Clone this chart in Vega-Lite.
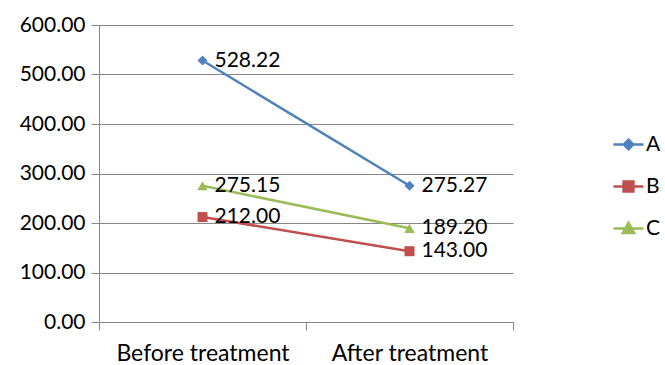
{
  "$schema": "https://vega.github.io/schema/vega-lite/v6.json",
  "width": 414,
  "height": 297,
  "autosize": "none",
  "padding": {"left": 99, "top": 25, "right": 152, "bottom": 43},
  "background": "white",
  "config": {
    "font": "Lato",
    "view": {"stroke": null},
    "axis": {
      "labelFont": "Lato",
      "labelFontSize": 21,
      "labelColor": "#000000",
      "domainColor": "#868686",
      "tickColor": "#868686",
      "gridColor": "#868686",
      "domainWidth": 1,
      "tickWidth": 1,
      "gridWidth": 1,
      "title": null
    },
    "legend": {
      "title": null,
      "orient": "none",
      "legendX": 513,
      "legendY": 103,
      "padding": 0,
      "symbolSize": 900,
      "labelFontSize": 21,
      "labelFont": "Lato",
      "labelColor": "#000000",
      "labelOffset": 1,
      "rowPadding": 15
    }
  },
  "data": {
    "values": [
      {"stage": "Before treatment", "series": "A", "value": 528.22},
      {"stage": "After treatment", "series": "A", "value": 275.27},
      {"stage": "Before treatment", "series": "B", "value": 212.00},
      {"stage": "After treatment", "series": "B", "value": 143.00},
      {"stage": "Before treatment", "series": "C", "value": 275.15},
      {"stage": "After treatment", "series": "C", "value": 189.20}
    ]
  },
  "encoding": {
    "x": {
      "field": "stage",
      "type": "nominal",
      "sort": ["Before treatment", "After treatment"],
      "scale": {"paddingInner": 0, "paddingOuter": 0},
      "axis": {
        "labelAngle": 0,
        "labelFontSize": 23,
        "tickBand": "extent",
        "tickSize": 8,
        "labelPadding": 12,
        "grid": false
      }
    },
    "y": {
      "field": "value",
      "type": "quantitative",
      "scale": {"domain": [0, 600], "nice": false},
      "axis": {
        "values": [0, 100, 200, 300, 400, 500, 600],
        "format": ".2f",
        "tickSize": 8,
        "labelPadding": 6,
        "grid": true
      }
    }
  },
  "layer": [
    {
      "mark": {"type": "line", "strokeWidth": 2.5},
      "encoding": {
        "color": {
          "field": "series",
          "type": "nominal",
          "scale": {"domain": ["A", "B", "C"], "range": ["#4F81BD", "#C0504D", "#9BBB59"]},
          "legend": {
            "encoding": {
              "symbols": {
                "shape": {"value": {"expr": "datum.value === 'A' ? 'M-1,0H1M0,-0.32L0.32,0L0,0.32L-0.32,0Z' : datum.value === 'B' ? 'M-1,0H1M-0.33,-0.33H0.33V0.33H-0.33Z' : 'M-1,0H1M0,-0.38L0.38,0.3H-0.38Z'"}},
                "fill": {"value": {"expr": "scale('color', datum.value)"}},
                "stroke": {"value": {"expr": "scale('color', datum.value)"}},
                "strokeWidth": {"value": 2.5},
                "opacity": {"value": 1},
                "fillOpacity": {"value": 1},
                "strokeOpacity": {"value": 1}
              }
            }
          }
        }
      }
    },
    {
      "transform": [{"filter": "datum.series === 'A'"}],
      "mark": {"type": "point", "filled": true, "opacity": 1, "size": 100, "shape": "diamond"},
      "encoding": {"color": {"field": "series", "type": "nominal", "legend": null}}
    },
    {
      "transform": [{"filter": "datum.series === 'B'"}],
      "mark": {"type": "point", "filled": true, "opacity": 1, "size": 100, "shape": "square"},
      "encoding": {"color": {"field": "series", "type": "nominal", "legend": null}}
    },
    {
      "transform": [{"filter": "datum.series === 'C'"}],
      "mark": {"type": "point", "filled": true, "opacity": 1, "size": 110, "shape": "triangle-up"},
      "encoding": {"color": {"field": "series", "type": "nominal", "legend": null}}
    },
    {
      "mark": {"type": "text", "align": "left", "baseline": "middle", "dx": 12, "fontSize": 21, "font": "Lato", "color": "#000000"},
      "encoding": {
        "text": {"field": "value", "type": "quantitative", "format": ".2f"}
      }
    }
  ]
}
